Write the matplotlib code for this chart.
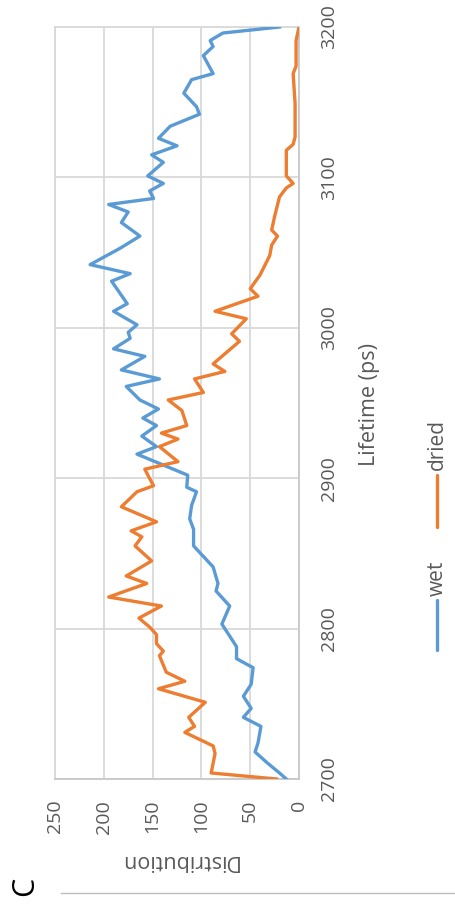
import matplotlib
matplotlib.use("Agg")
import matplotlib.pyplot as plt
from matplotlib.lines import Line2D

plt.rcParams['font.family'] = ['Open Sans', 'DejaVu Sans']

# Lifetime distributions (ps vs counts)
wet_lifetime = [2700, 2704, 2711, 2718, 2724, 2735, 2741, 2747, 2755, 2763, 2774, 2780,
                2788, 2795, 2803, 2815, 2825, 2830, 2841, 2855, 2866, 2873, 2882, 2891,
                2894, 2902, 2916, 2921, 2928, 2935, 2940, 2946, 2952, 2961, 2966, 2972,
                2981, 2986, 2993, 2997, 3002, 3011, 3016, 3031, 3036, 3042, 3053, 3061,
                3070, 3077, 3082, 3086, 3091, 3096, 3101, 3110, 3115, 3121, 3126, 3134,
                3142, 3147, 3156, 3165, 3169, 3181, 3187, 3191, 3196, 3200]
wet_values = [13, 20, 33, 45, 42, 39, 57, 49, 57, 49, 47, 64,
              64, 71, 79, 71, 85, 83, 88, 108, 108, 112, 110, 105,
              115, 114, 166, 146, 161, 146, 160, 144, 163, 177, 143, 182,
              158, 190, 173, 175, 166, 190, 176, 192, 173, 214, 183, 163,
              182, 175, 195, 149, 153, 139, 155, 139, 151, 125, 144, 132,
              102, 105, 118, 110, 88, 98, 88, 91, 78, 20]

dried_lifetime = [2700, 2704, 2717, 2722, 2731, 2735, 2741, 2751, 2760, 2765, 2771, 2782,
                  2785, 2790, 2796, 2801, 2807, 2815, 2821, 2830, 2835, 2845, 2855, 2861,
                  2865, 2871, 2881, 2891, 2895, 2901, 2906, 2911, 2921, 2926, 2930, 2935,
                  2945, 2952, 2957, 2966, 2971, 2976, 2991, 2996, 3006, 3011, 3021, 3026,
                  3035, 3048, 3055, 3061, 3065, 3074, 3087, 3093, 3096, 3101, 3112, 3118,
                  3122, 3127, 3149, 3169, 3174, 3191, 3200]
dried_values = [23, 90, 86, 88, 117, 107, 113, 96, 144, 117, 136, 143,
                139, 146, 146, 153, 164, 141, 195, 156, 177, 151, 168, 161,
                172, 146, 182, 166, 149, 154, 158, 124, 143, 124, 141, 115,
                120, 134, 98, 107, 76, 88, 61, 69, 54, 86, 42, 50,
                40, 30, 28, 22, 28, 25, 20, 13, 6, 13, 13, 13,
                6, 4, 4, 6, 3, 3, 0]

series_names = ["wet", "dried"]
series_colors = ["#5B9BD5", "#ED7D31"]

lifetime_ticks = [2700, 2800, 2900, 3000, 3100, 3200]
dist_ticks = [0, 50, 100, 150, 200, 250]

W, H = 456, 913
fig = plt.figure(figsize=(W / 100, H / 100), dpi=100)
ax = fig.add_axes([55 / W, (H - 779) / H, 244 / W, 752 / H])

grid_c = "#d9d9d9"
text_c = "#595959"

# Chart is laid out sideways: counts run right-to-left, lifetime bottom-to-top
ax.plot(wet_values, wet_lifetime, color=series_colors[0], lw=2.4, solid_joinstyle="round", zorder=3)
ax.plot(dried_values, dried_lifetime, color=series_colors[1], lw=2.4, solid_joinstyle="round", zorder=3)

ax.set_xlim(250, 0)
ax.set_ylim(2700, 3200)
ax.set_xticks(dist_ticks)
ax.set_yticks(lifetime_ticks)
ax.grid(True, color=grid_c, lw=1.3)
ax.set_axisbelow(True)
for s in ax.spines.values():
    s.set_color(grid_c)
    s.set_linewidth(1.3)
ax.spines["right"].set_color("#c8c8c8")
ax.spines["bottom"].set_color("#c8c8c8")

ax.tick_params(axis="x", length=0, pad=15, labelsize=14, labelcolor=text_c, labelrotation=90)
ax.tick_params(axis="y", left=False, labelleft=False, right=True, labelright=True,
               length=0, pad=15, labelsize=14, labelcolor=text_c, labelrotation=90)
for lbl in ax.get_yticklabels():
    lbl.set_verticalalignment("center")

# Axis titles
fig.text(370 / W, 1 - 405 / H, "Lifetime (ps)", rotation=90, ha="center", va="center",
         fontsize=15.5, color=text_c)
fig.text(178 / W, 1 - 860 / H, "Distribution", rotation=180, ha="center", va="center",
         fontsize=15.5, color=text_c)

# Legend, stacked vertically
legend_y = [(650, 600, 578), (527, 475, 445)]
for (y0, y1, ty), name, col in zip(legend_y, series_names, series_colors):
    fig.add_artist(Line2D([437 / W, 437 / W], [1 - y0 / H, 1 - y1 / H],
                          transform=fig.transFigure, color=col, lw=2.4, solid_capstyle="round"))
    fig.text(437 / W, 1 - ty / H, name, rotation=90, ha="center", va="center",
             fontsize=15, color=text_c)

# Panel label and rule
fig.text(25 / W, 1 - 886 / H, "C", rotation=90, ha="center", va="center", fontsize=22, color="black")
fig.add_artist(Line2D([61 / W, 1.0], [1 - 893 / H, 1 - 893 / H], transform=fig.transFigure,
                      color="#bdbdbd", lw=1))

fig.savefig("out.png", dpi=100, facecolor="white")
